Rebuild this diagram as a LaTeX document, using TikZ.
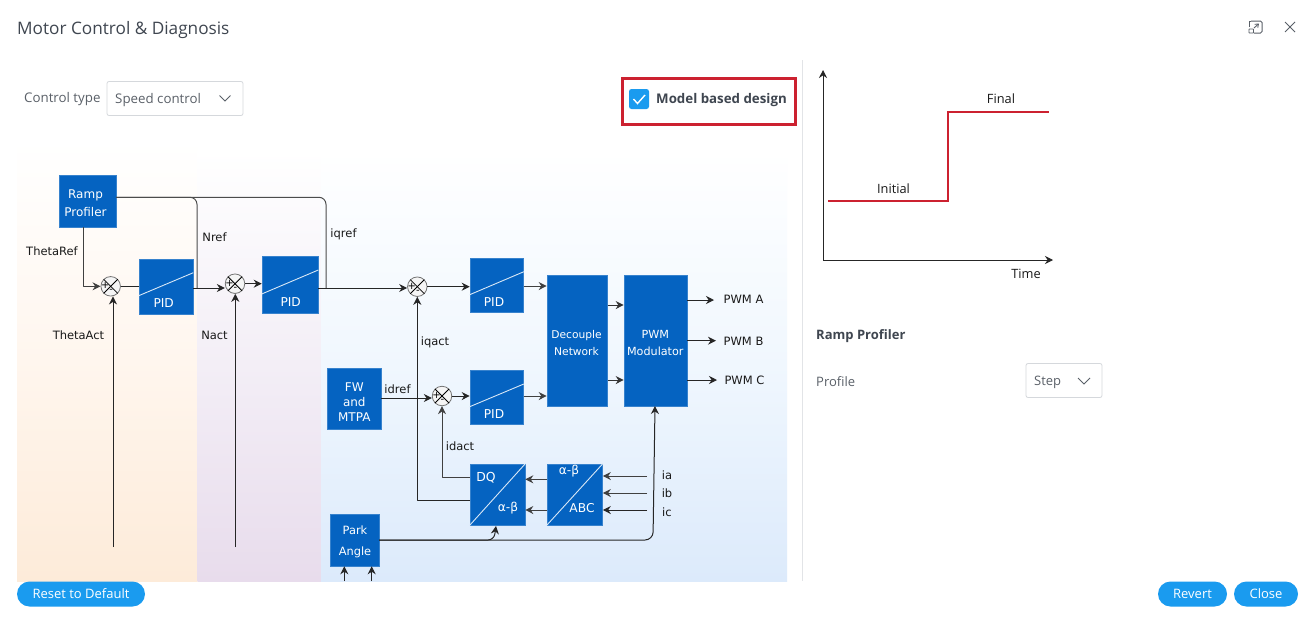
\documentclass[tikz,border=0pt]{standalone}
\usepackage{fontspec}
\setmainfont{Open Sans}
\newfontfamily\diagfont{DejaVu Sans}
\usetikzlibrary{arrows.meta,calc}
\definecolor{blk}{HTML}{0563C1}
\definecolor{uitext}{HTML}{5A6068}
\definecolor{uidark}{HTML}{3F4650}
\definecolor{btn}{HTML}{1A9BEF}
\definecolor{bordr}{HTML}{D5D8DC}
\definecolor{redl}{HTML}{CC2130}
\definecolor{orbot}{HTML}{FDEBD9}
\definecolor{ormid}{HTML}{FFF6EE}
\definecolor{vibot}{HTML}{E8DCEC}
\definecolor{vimid}{HTML}{F3EEF6}
\definecolor{blbot}{HTML}{DCEAFB}
\definecolor{blmid}{HTML}{F0F7FE}
\newcommand{\fs}[1]{\fontsize{#1}{#1}\selectfont}
\tikzset{
  x=1pt,y=-1pt,
  block/.style={fill=blk,draw=blk!80!white,line width=.6pt,inner sep=0pt},
  btext/.style={text=white,align=center,inner sep=0pt,font=\diagfont\fs{12.2}},
  lbl/.style={inner sep=0pt,font=\diagfont\fs{11.5},text=black!90},
  chartlbl/.style={inner sep=0pt,font=\fs{12.8},text=black!90},
  ui/.style={inner sep=0pt,font=\fs{13.3},text=uitext},
  wire/.style={line width=1pt,draw=black!85,line join=round},
  arr/.style={wire,-{Stealth[length=8pt,width=8pt]}},
  sumc/.style={circle,draw=black!55,fill=white!96!black,line width=.8pt,minimum size=19.5pt,inner sep=0pt},
  slash/.style={draw=white!85!blk,line width=.9pt},
  combo/.style={draw=bordr,fill=white,rounded corners=2pt,line width=.8pt},
  pill/.style={fill=btn,rounded corners=12.5pt,text=white,font=\fs{13},inner sep=0pt},
  chev/.style={draw=uitext,line width=1pt},
  sign/.style={inner sep=0pt,font=\diagfont\fs{10},text=black},
}
\newcommand{\sumnode}[3]{%
  \node[sumc] (#1) at (#2,#3) {};
  \draw[black,line width=.8pt] ([shift={(-7,-7)}]#1.center) -- ([shift={(7,7)}]#1.center);
  \draw[black,line width=.8pt] ([shift={(7,-7)}]#1.center) -- ([shift={(-7,7)}]#1.center);
  \node[sign] (#1p) at ([shift={(-5.5,-.5)}]#1.center) {+};
  \node[sign] (#1m) at ([shift={(.5,5)}]#1.center) {-};
}
\newcommand{\bx}[5]{% name x1 y1 x2 y2
  \node[block,minimum width=#4pt-#2pt,minimum height=#5pt-#3pt] (#1) at ({(#2+#4)/2},{(#3+#5)/2}) {};
}
\begin{document}
\begin{tikzpicture}
\useasboundingbox (0,0) rectangle (1301,619);
\fill[white] (0,0) rectangle (1301,619);
% panels
\shade[top color=white,bottom color=orbot,middle color=ormid] (17,140) rectangle (197.5,581);
\shade[top color=white,bottom color=vibot,middle color=vimid] (197.5,150) rectangle (321,581);
\shade[top color=white,bottom color=blbot,middle color=blmid] (321,150) rectangle (787,581);
% title
\node[anchor=west,inner sep=0pt,font=\fs{17.2},text=uidark] (title) at (17,30) {Motor Control \& Diagnosis};
\draw[uitext,line width=1pt,rounded corners=1.5pt] (1251,21) -- (1262,21) -- (1262,33) -- (1254,33);
\draw[uitext,line width=1pt] (1249,27) -- (1249,21) -- (1251,21);
\draw[uitext,line width=.9pt,rounded corners=.5pt] (1249,29) rectangle (1253.5,33);
\draw[uitext,line width=.9pt,-{Straight Barb[length=3pt,width=4.5pt]}] (1254,28) -- (1259,23.5);
\draw[uitext,line width=1pt] (1285,22) -- (1295,32) (1295,22) -- (1285,32);
% control type
\node[ui,anchor=west] (ctl) at (24,99) {Control type};
\draw[combo] (107,81.5) rectangle (243,115.5);
\node[ui,anchor=west] (spd) at (115,100) {Speed control};
\draw[chev] (219.5,95.5) -- (225,101) -- (230.5,95.5);
% model based
\draw[redl,line width=3pt] (622,78) rectangle (795,124);
\fill[btn,rounded corners=2.5pt] (629,89) rectangle (649,109);
\draw[white,line width=1.4pt] (633.5,99) -- (637.5,103.5) -- (645,95);
\node[anchor=west,inner sep=0pt,font=\bfseries\fs{13.3},text=uidark] (mbd) at (656,100) {Model based design};
% right panel
\draw[bordr!70!white,line width=1pt] (802,60) -- (802,581);
\coordinate (org) at (823,260);
\coordinate (ytop) at (823,70);
\coordinate (xend) at (1053,260);
\draw[arr] (org) -- (ytop);
\draw[arr] (org) -- (xend);
\draw[redl,line width=2.4pt] (828,201) -- (948,201) -- (948,112) -- (1049,112);
\node[chartlbl] (initl) at (893.5,188.8) {Initial};
\node[chartlbl] (finl) at (1001,98.8) {Final};
\node[chartlbl] (timel) at (1026,273.8) {Time};
\node[anchor=west,inner sep=0pt,font=\bfseries\fs{13},text=uidark] (rph) at (816,336) {Ramp Profiler};
\node[ui,anchor=west,font=\fs{13}] (prf) at (816,382) {Profile};
\draw[combo] (1026,363.5) rectangle (1102,397.5);
\node[ui,anchor=west,font=\fs{13}] (stp) at (1034,382) {Step};
\draw[chev] (1078,378) -- (1084,384) -- (1090,378);
% buttons
\node[pill,minimum width=128pt,minimum height=25pt] (rst) at (81,594) {Reset to Default};
\node[pill,minimum width=69pt,minimum height=25pt] (rvt) at (1192.5,594) {Revert};
\node[pill,minimum width=64pt,minimum height=25pt] (cls) at (1266,594) {Close};
% blocks
\bx{ramp}{59}{175.5}{116}{227}
\bx{pida}{139}{259}{193}{314}
\bx{pidb}{262}{256}{318}{313.5}
\bx{pidc}{470}{258}{523.5}{312.5}
\bx{pidd}{470}{370.5}{523.5}{424.5}
\bx{fw}{327.5}{368.5}{381}{429}
\bx{dec}{547}{275}{607.5}{406}
\bx{pwm}{624}{275}{687}{406}
\bx{dq}{470}{464}{525}{525}
\bx{abc}{547}{464}{602.5}{525}
\bx{park}{330.5}{514}{379}{566}
\draw[slash] (pida.west|-139,295.7) -- (pida.east|-193,272.7);
\draw[slash] (pidb.west|-262,294) -- (pidb.east|-318,270);
\draw[slash] (pidc.west|-470,294.7) -- (pidc.east|-523,271.7);
\draw[slash] (pidd.west|-470,406.7) -- (pidd.east|-523,384);
\draw[slash] (dq.south west) -- (dq.north east);
\draw[slash] (abc.south west) -- (abc.north east);
\node[btext,font=\diagfont\fs{12}] (rampt) at (85.5,203.3) {Ramp\\[6pt]Profiler};
\node[btext,font=\diagfont\fs{12}] (fwt) at (354.3,401.8) {FW\\[3pt]and\\[3pt]MTPA};
\node[btext,font=\diagfont\fs{10.7}] (dect) at (576.5,343.3) {Decouple\\[6pt]Network};
\node[btext,font=\diagfont\fs{11.2}] (pwmt) at (655.3,343.3) {PWM\\[5.5pt]Modulator};
\node[btext,font=\diagfont\fs{11.4}] (parkt) at (355,541.8) {Park\\[9pt]Angle};
\node[btext] (pt1) at (163.7,303.5) {PID};
\node[btext] (pt2) at (290.7,302) {PID};
\node[btext] (pt3) at (494,302) {PID};
\node[btext] (pt4) at (494,414) {PID};
\node[btext,font=\diagfont\fs{12.4}] (dqt) at (486,477.5) {DQ};
\node[btext] (abt) at (508,508) {α-β};
\node[btext] (abt2) at (569,471.5) {α-β};
\node[btext] (abct) at (582,508) {ABC};
% junctions
\sumnode{sa}{110.7}{286.3}
\sumnode{sb}{235}{283.7}
\sumnode{sc}{417.3}{286.7}
\sumnode{sd}{442}{396}
% connectors
\coordinate (rout) at (116,197.3);
\coordinate (rdn) at (197,288);
\coordinate (rdq) at (326,288);
\draw[wire,black!70,rounded corners=7pt] (rout) -- (rout -| rdn) -- (rdn);
\draw[wire,black!70,rounded corners=7pt] (rout) -- (rout -| rdq) -- (rdq);
\draw[arr,black!75] ([xshift=-4.5]ramp.south) |- (sa.west);
\draw[wire] (sa.east) -- (sa.east -| pida.west);
\draw[arr] ([shift={(0,1.5)}]pida.east) -- ([shift={(0,4.3)}]sb.west);
\draw[arr] (sb.east) -- (sb.east -| pidb.west);
\draw[arr] ([shift={(0,3.25)}]pidb.east) -- ([shift={(0,1.3)}]sc.west);
\draw[arr] (sc.east) -- (sc.east -| pidc.west);
\draw[arr] (sd.east) -- (sd.east -| pidd.west);
\draw[arr,black!75] ([shift={(0,.75)}]pidc.east) -- ([shift={(0,.75)}]pidc.east -| dec.west);
\draw[arr,black!75] ([shift={(0,-1.5)}]pidd.east) -- ([shift={(0,-1.5)}]pidd.east -| dec.west);
\draw[arr] ([shift={(0,2)}]fw.east |- sd.west) -- ([shift={(0,2)}]sd.west);
\draw[arr,black!80] ([shift={(0,-35.5)}]dec.east) -- ([shift={(0,-35.5)}]pwm.west);
\draw[arr,black!80] ([shift={(0,39.5)}]dec.east) -- ([shift={(0,39.5)}]pwm.west);
\coordinate (outa) at (714,300);
\coordinate (outb) at (716,340.7);
\coordinate (outc) at (717,380);
\draw[arr] (pwm.east |- outa) -- (outa);
\draw[arr] (pwm.east |- outb) -- (outb);
\draw[arr] (pwm.east |- outc) -- (outc);
\node[lbl] (pa) at (743.5,299.5) {PWM A};
\node[lbl] (pb) at (743.5,341) {PWM B};
\node[lbl] (pc) at (744.5,380.5) {PWM C};
\coordinate (ta) at (113,547);
\coordinate (tb) at (235.3,547);
\draw[arr] (ta) -- (ta |- sa.south);
\draw[arr] (tb) -- (tb |- sb.south);
\coordinate (dqa) at (470,500.7);
\coordinate (dqb) at (470,477);
\draw[arr] (dqa) -| (sc.south);
\draw[arr,black!75] (dqb) -| (sd.south);
\coordinate (ia) at (647,476);
\coordinate (ib) at (647,493);
\coordinate (ic) at (647,510);
\draw[arr,black!75] (ia) -- (abc.east |- ia);
\draw[arr,black!75] (ib) -- (abc.east |- ib);
\draw[arr] (ic) -- (abc.east |- ic);
\coordinate (aba) at (547,479.3);
\coordinate (abb) at (547,510);
\draw[arr,black!75] (aba) -- (aba -| dq.east);
\draw[arr,black!75] (abb) -- (abb -| dq.east);
\coordinate (pko) at (379,540);
\coordinate (pkt) at (655,406);
\draw[arr,rounded corners=6pt] (pko) -- (494,540) -- (496,526);
\draw[arr,rounded corners=8pt] (pko) -- (653,540) -- (pkt);
\coordinate (pka) at (344.3,581);
\coordinate (pkb) at (371.7,581);
\draw[arr] (pka) -- (pka |- park.south);
\draw[arr] (pkb) -- (pkb |- park.south);
% labels
\node[lbl] (l1) at (52,251) {ThetaRef};
\node[lbl] (l2) at (78.5,335) {ThetaAct};
\node[lbl] (l3) at (214.5,237) {Nref};
\node[lbl] (l4) at (214.5,335) {Nact};
\node[lbl] (l5) at (343.5,234.5) {iqref};
\node[lbl] (l6) at (435,342) {iqact};
\node[lbl] (l7) at (397.5,389) {idref};
\node[lbl] (l8) at (460,446) {idact};
\node[lbl] (l9) at (667,475) {ia};
\node[lbl] (l10) at (667,493.5) {ib};
\node[lbl] (l11) at (667,512) {ic};
\end{tikzpicture}
\end{document}
